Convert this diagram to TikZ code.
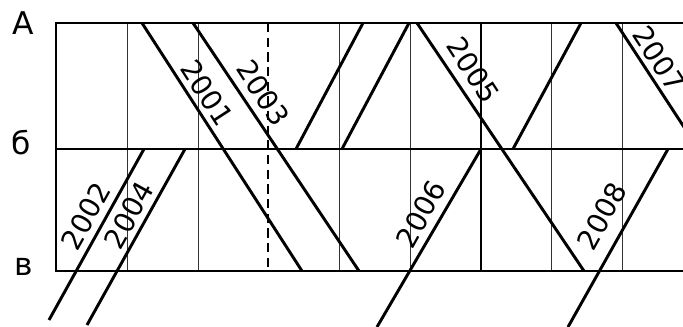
\documentclass[tikz,border=0pt]{standalone}
\usepackage{fontspec}
\setmainfont{DejaVu Sans}
\usetikzlibrary{positioning}
\tikzset{
  frameline/.style={line width=2.2pt},
  gridline/.style={line width=0.7pt, draw=black!80},
  divline/.style={line width=1.5pt, dash pattern=on 7pt off 4pt},
  track/.style={line width=2.2pt},
  year/.style={font=\fontsize{21}{21}\selectfont, inner sep=0pt},
  lev/.style={font=\fontsize{23.5}{23.5}\selectfont, inner sep=0pt}
}

\begin{document}
\begin{tikzpicture}[x=0.75pt, y=-0.75pt]
  \clip (0,0) rectangle (683,327);
  % levels
  \node[lev] (lvA) at (23,23.5) {А};
  \node[lev] (lvB) at (21.5,142.5) {б};
  \node[lev] (lvV) at (23.5,266.5) {в};
  % grid
  \foreach \x in {127,198,339,410,551,622} {
    \draw[gridline] (\x,23) -- (\x,271);
  }
  \draw[divline] (268,23) -- (268,271);
  \draw[frameline] (481,23) -- (481,271);
  \draw[frameline] (700,23) -- (56,23) -- (56,271) -- (700,271);
  \draw[frameline] (56,149) -- (700,149);
  % tracks
  \foreach \n/\xa/\ya/\xb/\yb in {
      t1/142/23/302/271, t3/193/23/359/271, t5/417/23/584/271, t7/616/23/778/271,
      u1/296/149/363/23, u2/342/149/409/23, u3/513/149/581/23,
      t2/49/320/144/149, t4/87/325/185/149, t6/377/327/481/149, t8/568/327/668/149} {
    \coordinate (\n s) at (\xa,\ya);
    \coordinate (\n e) at (\xb,\yb);
    \draw[track] (\n s) -- (\n e);
  }
  % years
  \node[year, rotate=-57] (y2001) at (207,93) {2001};
  \node[year, rotate=-57] (y2003) at (263,93) {2003};
  \node[year, rotate=-57] (y2005) at (473,70) {2005};
  \node[year, rotate=-57] (y2007) at (659,59) {2007};
  \node[year, rotate=61] (y2002) at (86,216) {2002};
  \node[year, rotate=61] (y2004) at (129,215) {2004};
  \node[year, rotate=61] (y2006) at (421,214) {2006};
  \node[year, rotate=61] (y2008) at (602,216) {2008};
\end{tikzpicture}
\end{document}
